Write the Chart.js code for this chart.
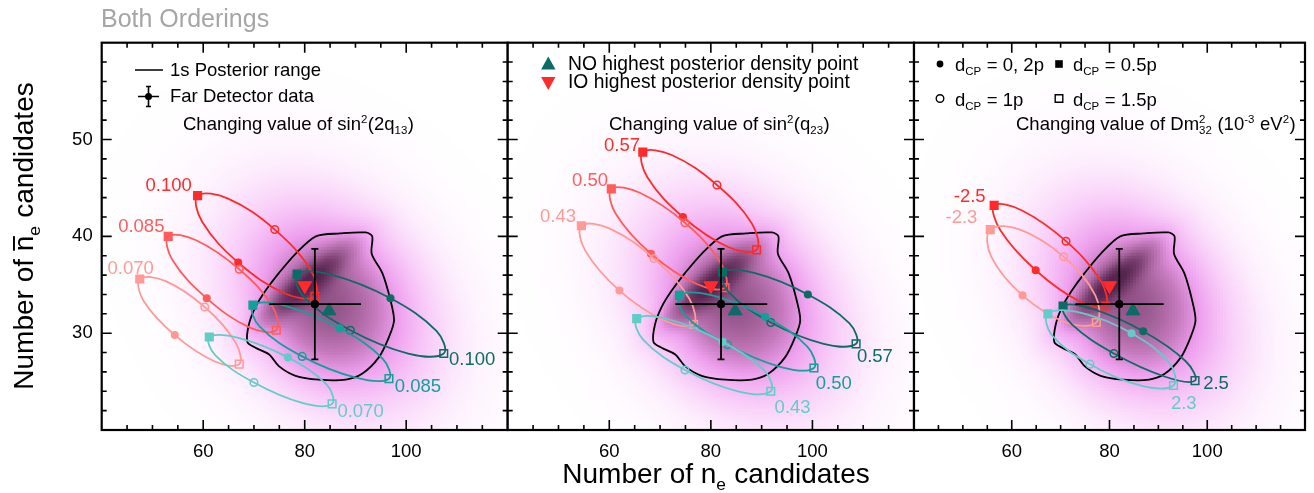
<!DOCTYPE html>
<html><head><meta charset="utf-8">
<script src="https://cdn.jsdelivr.net/npm/chart.js@4.4.0/dist/chart.umd.min.js"></script>
<style>
html,body{margin:0;padding:0;background:#fff;}
#wrap{position:relative;width:1314px;height:493px;overflow:hidden;}
#wrap canvas{position:absolute;left:0;top:0;}
</style></head><body>
<div id="wrap">
<canvas id="c1" width="1314" height="493"></canvas>
<canvas id="c2" width="1314" height="493"></canvas>
<canvas id="c3" width="1314" height="493"></canvas>
</div>
<script>
// ================= DATA =================
const xTickValues = [60, 80, 100];
const yTickValues = [30, 40, 50];

// Far Detector data point (nue, anti-nue) and its error ranges
const fdPoint = [82, 33];
const fdRangeX = [73.0, 91.1];
const fdRangeY = [27.3, 38.7];

// Highest posterior density points
const noBestFit = [84.8, 32.3];
const ioBestFit = [80.0, 34.9];

// 1 sigma posterior contour
const posteriorContour = [
  [82.2,40.0],[87.0,40.3],[92.0,40.4],[93.3,40.0],[93.2,38.2],[95.3,36.2],[96.9,33.4],[97.6,31.3],
  [96.6,29.6],[94.6,27.5],[91.3,25.8],[88.1,25.2],[82.8,25.2],[78.2,25.6],[74.9,26.6],[73.0,27.8],
  [70.3,28.5],[68.7,29.1],[69.0,30.9],[70.3,32.7],[72.3,34.4],[74.9,36.2],[78.2,38.2]
];

// posterior density (background) components: centre, widths, correlation, weight
const densCx  = [85.5, 84.0, 80.0];
const densCy  = [33.2, 32.5, 35.0];
const densSx  = [14.0, 8.0, 6.0];
const densSy  = [7.6, 4.5, 2.7];
const densRho = [-0.3, 0.1, 0.88];
const densW   = [0.5, 0.2, 0.45];

// Each curve: points at dCP = 0, 0.25pi, 0.5pi, 0.75pi, pi, 1.25pi, 1.5pi, 1.75pi
// Panel 1: sin^2(2theta13)
const th13Labels = ['0.100', '0.085', '0.070', '0.100', '0.085', '0.070'];
const th13_IO_100 = [[66.9,37.3],[59.8,41.5],[58.9,44.2],[64.9,43.9],[74.1,40.7],[81.2,36.5],[82.0,33.8],[76.1,34.1]];
const th13_IO_085 = [[60.7,33.6],[54.0,37.5],[53.1,40.0],[58.6,39.6],[67.1,36.6],[73.6,32.8],[74.4,30.3],[69.1,30.6]];
const th13_IO_070 = [[54.4,29.8],[48.3,33.3],[47.5,35.6],[52.5,35.4],[60.3,32.7],[66.3,29.1],[67.1,26.8],[62.2,27.1]];
const th13_NO_100 = [[96.9,33.6],[85.5,36.0],[78.5,36.1],[79.9,33.7],[89.0,30.3],[100.4,27.9],[107.4,27.9],[106.0,30.2]];
const th13_NO_085 = [[86.9,30.5],[76.3,32.8],[69.8,32.9],[71.1,30.7],[79.5,27.6],[90.1,25.4],[96.6,25.3],[95.3,27.4]];
const th13_NO_070 = [[76.7,27.5],[67.1,29.5],[61.2,29.6],[62.4,27.7],[70.0,24.9],[79.5,22.8],[85.4,22.7],[84.3,24.7]];

// Panel 2: sin^2(theta23)
const th23Labels = ['0.57', '0.50', '0.43', '0.57', '0.50', '0.43'];
const th23_IO_057 = [[74.5,42.0],[67.5,46.1],[66.6,48.7],[72.3,48.4],[81.2,45.3],[88.1,41.3],[89.0,38.6],[83.4,38.9]];
const th23_IO_050 = [[68.2,38.2],[61.3,42.3],[60.4,44.9],[66.0,44.5],[74.9,41.4],[81.9,37.3],[82.8,34.7],[77.1,35.1]];
const th23_IO_043 = [[62.0,34.4],[55.3,38.5],[54.5,41.1],[60.1,40.8],[68.8,37.7],[75.7,33.6],[76.6,30.9],[70.9,31.3]];
const th23_NO_057 = [[99.1,34.0],[88.7,36.2],[82.3,36.3],[83.6,34.2],[91.8,31.1],[102.2,28.9],[108.6,28.9],[107.3,31.0]];
const th23_NO_050 = [[90.7,31.7],[80.3,33.9],[73.8,33.9],[75.0,31.8],[83.3,28.8],[93.8,26.5],[100.3,26.4],[99.0,28.6]];
const th23_NO_043 = [[82.3,29.1],[71.9,31.4],[65.4,31.5],[66.7,29.3],[74.9,26.2],[85.3,24.0],[91.8,24.0],[90.6,26.1]];

// Panel 3: Delta m^2_32 (1e-3 eV^2)
const dm32Labels = ['-2.5', '-2.3', '2.5', '2.3'];
const dm32_IO_25 = [[64.9,36.5],[57.7,40.6],[56.4,43.2],[62.0,42.7],[71.1,39.5],[78.2,35.4],[79.2,32.8],[73.8,33.3]];
const dm32_IO_23 = [[62.2,33.9],[55.8,37.9],[55.6,40.7],[61.7,40.7],[70.6,37.9],[77.1,33.9],[77.3,31.1],[71.1,31.1]];
const dm32_NO_25 = [[86.9,30.2],[76.5,32.5],[70.5,32.8],[72.3,30.9],[80.9,27.9],[91.4,25.5],[97.5,25.1],[95.6,27.1]];
const dm32_NO_23 = [[84.5,30.0],[74.2,32.1],[67.4,32.0],[68.2,29.8],[76.0,26.8],[86.3,24.6],[93.1,24.6],[92.3,26.9]];

// ================= STYLE / LAYOUT =================
const FONT = "'Liberation Sans', Arial, Helvetica, sans-serif";
const C_IO1 = '#ff2b2b', C_IO2 = '#ff5c5c', C_IO3 = '#ff9a96';
const C_NO1 = '#0d6b66', C_NO2 = '#14a09a', C_NO3 = '#62cdc8';
const CMAP = [
  [0.00, 255,255,255], [0.08, 253,238,253], [0.22, 248,200,248], [0.36, 238,160,238],
  [0.50, 198,122,190], [0.64, 162,96,152], [0.80, 122,64,112], [1.00, 86,36,78]
];
const TOP = 42.7, BOTTOM = 430;
const panelsPx = [[101.7, 507.7], [507.7, 914], [914, 1308]];

function toXY(arr) { return arr.map(p => ({x: p[0], y: p[1]})); }

const MARK_R = [3.3, 0, 5.4, 0, 3.8, 0, 5.4, 0];
const MARK_S = ['circle','circle','rect','circle','circle','circle','rect','circle'];
function curveDS(arr, color) {
  return {
    data: toXY(arr), showLine: true, closed: true,
    borderColor: color, borderWidth: 1.8, tension: 0.375,
    pointRadius: c => MARK_R[c.dataIndex % 8], pointHoverRadius: c => MARK_R[c.dataIndex % 8],
    pointStyle: c => MARK_S[c.dataIndex % 8],
    pointBackgroundColor: c => (c.dataIndex === 0 || c.dataIndex === 2) ? color : 'rgba(0,0,0,0)',
    pointBorderColor: color, pointBorderWidth: 1.5,
    order: 5
  };
}
function commonDS() {
  return [
    { data: toXY(posteriorContour), showLine: true, closed: true, borderColor: '#000', borderWidth: 1.8,
      tension: 0.3, pointRadius: 0, order: 8 },
    { data: [{x: fdPoint[0], y: fdPoint[1]}], pointRadius: 3.8, pointBackgroundColor: '#000', pointBorderColor: '#000', order: 2 },
    { data: [{x: noBestFit[0], y: noBestFit[1]}], pointStyle: 'triangle', pointRadius: 8,
      pointBackgroundColor: C_NO1, pointBorderColor: C_NO1, pointBorderWidth: 1, order: 1 },
    { data: [{x: ioBestFit[0], y: ioBestFit[1]}], pointStyle: 'triangle', rotation: 180, pointRadius: 8,
      pointBackgroundColor: C_IO1, pointBorderColor: C_IO1, pointBorderWidth: 1, order: 1 }
  ];
}

// ---------- rich text ----------
function runW(ctx, r, size) {
  const s = size * 0.62;
  if (r.t !== undefined) { ctx.font = `${size}px ${FONT}`; return ctx.measureText(r.t).width; }
  if (r.over !== undefined) { ctx.font = `${size}px ${FONT}`; return ctx.measureText(r.over).width; }
  ctx.font = `${s}px ${FONT}`;
  return Math.max(r.sup ? ctx.measureText(r.sup).width : 0, r.sub ? ctx.measureText(r.sub).width : 0) + 0.5;
}
function drawRich(ctx, runs, x, y, size, color, align) {
  ctx.save();
  ctx.fillStyle = color; ctx.strokeStyle = color; ctx.textBaseline = 'alphabetic'; ctx.textAlign = 'left';
  let total = 0; const ws = runs.map(r => { const w = runW(ctx, r, size); total += w; return w; });
  let cx = x - (align === 'center' ? total / 2 : align === 'right' ? total : 0);
  const s = size * 0.62;
  runs.forEach((r, i) => {
    if (r.t !== undefined) { ctx.font = `${size}px ${FONT}`; ctx.fillText(r.t, cx, y); }
    else if (r.over !== undefined) {
      ctx.font = `${size}px ${FONT}`; ctx.fillText(r.over, cx, y);
      ctx.lineWidth = size * 0.07; ctx.beginPath();
      ctx.moveTo(cx + 0.5, y - size * 0.68); ctx.lineTo(cx + ws[i] - 0.5, y - size * 0.68); ctx.stroke();
    } else {
      ctx.font = `${s}px ${FONT}`;
      if (r.sup) ctx.fillText(r.sup, cx, y - size * 0.4);
      if (r.sub) ctx.fillText(r.sub, cx, y + size * 0.24);
    }
    cx += ws[i];
  });
  ctx.restore();
}

// ---------- drawing helpers ----------
function cmap(t) {
  if (t <= 0) return [255,255,255];
  if (t >= 1) return CMAP[CMAP.length - 1].slice(1);
  for (let i = 1; i < CMAP.length; i++) {
    if (t <= CMAP[i][0]) {
      const a = CMAP[i-1], b = CMAP[i], f = (t - a[0]) / (b[0] - a[0]);
      return [a[1] + (b[1]-a[1])*f, a[2] + (b[2]-a[2])*f, a[3] + (b[3]-a[3])*f];
    }
  }
}
function drawDensity(chart) {
  const {ctx, chartArea: a, scales: {x, y}} = chart;
  const w = Math.ceil(a.right - a.left), h = Math.ceil(a.bottom - a.top);
  const off = document.createElement('canvas'); off.width = w; off.height = h;
  const octx = off.getContext('2d'); const img = octx.createImageData(w, h);
  const cell = 3;
  for (let j = 0; j < h; j += cell) {
    const vy = y.getValueForPixel(a.top + j + cell / 2);
    for (let i = 0; i < w; i += cell) {
      const vx = x.getValueForPixel(a.left + i + cell / 2);
      let d = 0;
      for (let k = 0; k < densCx.length; k++) {
        const dx = (vx - densCx[k]) / densSx[k], dy = (vy - densCy[k]) / densSy[k], r = densRho[k];
        const q = (dx*dx - 2*r*dx*dy + dy*dy) / (1 - r*r);
        d += densW[k] * Math.exp(-q / 2);
      }
      const c = cmap(d);
      for (let jj = j; jj < Math.min(h, j + cell); jj++)
        for (let ii = i; ii < Math.min(w, i + cell); ii++) {
          const p = (jj * w + ii) * 4;
          img.data[p] = c[0]; img.data[p+1] = c[1]; img.data[p+2] = c[2]; img.data[p+3] = 255;
        }
    }
  }
  octx.putImageData(img, 0, 0);
  ctx.drawImage(off, a.left, a.top);
}
function drawErrorBar(chart) {
  const {ctx, scales: {x, y}} = chart;
  const px = x.getPixelForValue(fdPoint[0]), py = y.getPixelForValue(fdPoint[1]);
  const x0 = x.getPixelForValue(fdRangeX[0]), x1 = x.getPixelForValue(fdRangeX[1]);
  const y0 = y.getPixelForValue(fdRangeY[0]), y1 = y.getPixelForValue(fdRangeY[1]);
  ctx.save(); ctx.strokeStyle = '#000'; ctx.lineWidth = 1.8; ctx.beginPath();
  ctx.moveTo(x0, py); ctx.lineTo(x1, py);
  ctx.moveTo(px, y0); ctx.lineTo(px, y1);
  ctx.moveTo(px - 3.5, y0); ctx.lineTo(px + 3.5, y0);
  ctx.moveTo(px - 3.5, y1); ctx.lineTo(px + 3.5, y1);
  ctx.stroke(); ctx.restore();
}
function drawFrame(chart) {
  const {ctx, chartArea: a, scales: {x, y}} = chart;
  ctx.save(); ctx.strokeStyle = '#000'; ctx.lineWidth = 1.6; ctx.beginPath();
  for (let v = 45; v < 120; v += 5) {
    const px = x.getPixelForValue(v), L = v % 20 === 0 ? 10 : 5;
    ctx.moveTo(px, a.bottom); ctx.lineTo(px, a.bottom - L);
    ctx.moveTo(px, a.top); ctx.lineTo(px, a.top + L);
  }
  for (let v = 22; v < 60; v += 2) {
    const py = y.getPixelForValue(v), L = v % 10 === 0 ? 10 : 5;
    ctx.moveTo(a.left, py); ctx.lineTo(a.left + L, py);
    ctx.moveTo(a.right, py); ctx.lineTo(a.right - L, py);
  }
  ctx.stroke();
  ctx.lineWidth = 2.2;
  ctx.strokeRect(a.left, a.top, a.right - a.left, a.bottom - a.top);
  ctx.restore();
}
function drawValueLabels(chart, labels, colors, lx, ly) {
  const {ctx, scales: {x, y}} = chart;
  ctx.save(); ctx.font = `18.5px ${FONT}`; ctx.textAlign = 'center'; ctx.textBaseline = 'middle';
  labels.forEach((t, i) => { ctx.fillStyle = colors[i]; ctx.fillText(t, x.getPixelForValue(lx[i]), y.getPixelForValue(ly[i])); });
  ctx.restore();
}
function marker(ctx, kind, x, y, filled) {
  ctx.save(); ctx.fillStyle = '#000'; ctx.strokeStyle = '#000'; ctx.lineWidth = 1.4; ctx.beginPath();
  if (kind === 'c') ctx.arc(x, y, filled ? 3.4 : 3.8, 0, Math.PI * 2);
  else ctx.rect(x - 3.8, y - 3.8, 7.6, 7.6);
  filled ? ctx.fill() : ctx.stroke();
  ctx.restore();
}

// ---------- panel-specific overlays ----------
const LS = 18.5;
const overlays = [
  function (chart) {
    const ctx = chart.ctx;
    drawRich(ctx, [{t: 'Both Orderings'}], 101, 26.5, 25, '#a6a6a6', 'left');
    ctx.save(); ctx.strokeStyle = '#000'; ctx.lineWidth = 1.6; ctx.beginPath();
    ctx.moveTo(135, 70); ctx.lineTo(163, 70);
    ctx.moveTo(138, 96.5); ctx.lineTo(159, 96.5);
    ctx.moveTo(148.5, 86.5); ctx.lineTo(148.5, 106.5);
    ctx.moveTo(146, 86.5); ctx.lineTo(151, 86.5); ctx.moveTo(146, 106.5); ctx.lineTo(151, 106.5);
    ctx.stroke(); ctx.fillStyle = '#000'; ctx.beginPath(); ctx.arc(148.5, 96.5, 3.5, 0, Math.PI * 2); ctx.fill(); ctx.restore();
    drawRich(ctx, [{t: '1s Posterior range'}], 170, 76, LS, '#000', 'left');
    drawRich(ctx, [{t: 'Far Detector data'}], 170, 102, LS, '#000', 'left');
    drawRich(ctx, [{t: 'Changing value of sin'}, {sup: '2'}, {t: '(2q'}, {sub: '13'}, {t: ')'}], 183, 130, LS, '#000', 'left');
    drawValueLabels(chart, th13Labels, [C_IO1, C_IO2, C_IO3, C_NO1, C_NO2, C_NO3],
      [53.2, 47.8, 45.7, 113.0, 102.3, 91.0], [45.2, 41.0, 36.6, 27.2, 24.5, 21.9]);
    // y-axis title
    ctx.save(); ctx.translate(24, 236); ctx.rotate(-Math.PI / 2);
    drawRich(ctx, [{t: 'Number of '}, {over: 'n'}, {sub: 'e'}, {t: ' candidates'}], 0, 9, 28, '#000', 'center');
    ctx.restore();
  },
  function (chart) {
    const ctx = chart.ctx;
    ctx.save();
    ctx.fillStyle = C_NO1; ctx.beginPath(); ctx.moveTo(548.3, 56.5); ctx.lineTo(555.5, 69.5); ctx.lineTo(541.1, 69.5); ctx.closePath(); ctx.fill();
    ctx.fillStyle = C_IO1; ctx.beginPath(); ctx.moveTo(548.3, 90); ctx.lineTo(555.5, 77); ctx.lineTo(541.1, 77); ctx.closePath(); ctx.fill();
    ctx.restore();
    drawRich(ctx, [{t: 'NO highest posterior density point'}], 568, 70, 19.3, '#000', 'left');
    drawRich(ctx, [{t: 'IO highest posterior density point'}], 568, 87.5, 19.3, '#000', 'left');
    drawRich(ctx, [{t: 'Changing value of sin'}, {sup: '2'}, {t: '(q'}, {sub: '23'}, {t: ')'}], 609, 130, LS, '#000', 'left');
    drawValueLabels(chart, th23Labels, [C_IO1, C_IO2, C_IO3, C_NO1, C_NO2, C_NO3],
      [62.5, 56.2, 49.9, 112.3, 104.2, 96.1], [49.3, 45.7, 42.0, 27.5, 24.8, 22.3]);
    // x-axis title
    drawRich(ctx, [{t: 'Number of n'}, {sub: 'e'}, {t: ' candidates'}], 716, 483, 28, '#000', 'center');
  },
  function (chart) {
    const ctx = chart.ctx;
    marker(ctx, 'c', 940, 64, true); marker(ctx, 's', 1059, 64, true);
    marker(ctx, 'c', 940, 98.5, false); marker(ctx, 's', 1059, 98.5, false);
    drawRich(ctx, [{t: 'd'}, {sub: 'CP'}, {t: ' = 0, 2p'}], 955, 71, LS, '#000', 'left');
    drawRich(ctx, [{t: 'd'}, {sub: 'CP'}, {t: ' = 0.5p'}], 1073, 71, LS, '#000', 'left');
    drawRich(ctx, [{t: 'd'}, {sub: 'CP'}, {t: ' = 1p'}], 955, 105.5, LS, '#000', 'left');
    drawRich(ctx, [{t: 'd'}, {sub: 'CP'}, {t: ' = 1.5p'}], 1073, 105.5, LS, '#000', 'left');
    drawRich(ctx, [{t: 'Changing value of Dm'}, {sup: '2', sub: '32'}, {t: ' (10'}, {sup: '-3'}, {t: ' eV'}, {sup: '2'}, {t: ')'}], 1016, 130, LS, '#000', 'left');
    drawValueLabels(chart, dm32Labels, [C_IO1, C_IO3, C_NO1, C_NO3],
      [51.4, 49.7, 101.8, 95.2], [44.1, 41.9, 24.8, 22.7]);
  }
];

function makePlugin(idx) {
  return {
    id: 'panel' + idx,
    afterDatasetUpdate(chart, args) {
      const ds = chart.data.datasets[args.index];
      if (ds && ds.closed && args.meta.dataset) { args.meta.dataset._loop = true; args.meta.dataset._fullLoop = true; }
    },
    beforeDatasetsDraw(chart) { drawDensity(chart); },
    afterDatasetsDraw(chart) { drawErrorBar(chart); },
    afterDraw(chart) { drawFrame(chart); overlays[idx](chart); }
  };
}

function makeChart(id, idx, curves) {
  const [L, R] = panelsPx[idx];
  const YW = 40, XH = 40;
  const datasets = commonDS().concat(curves.map(c => curveDS(c[0], c[1])));
  return new Chart(document.getElementById(id), {
    type: 'scatter',
    data: { datasets },
    options: {
      responsive: false, animation: false, events: [],
      layout: { padding: { left: L - YW, right: 1314 - R, top: TOP, bottom: 493 - BOTTOM - XH } },
      plugins: { legend: { display: false }, tooltip: { enabled: false } },
      scales: {
        x: {
          type: 'linear', min: 40, max: 120,
          afterBuildTicks: s => { s.ticks = xTickValues.map(v => ({value: v})); },
          afterFit: s => { s.height = XH; },
          grid: { display: false, drawTicks: false }, border: { display: false },
          ticks: { font: { family: FONT, size: 18.5 }, color: '#000', padding: 11, maxRotation: 0, autoSkip: false }
        },
        y: {
          type: 'linear', min: 20, max: 60,
          afterBuildTicks: s => { s.ticks = yTickValues.map(v => ({value: v})); },
          afterFit: s => { s.width = YW; },
          grid: { display: false, drawTicks: false }, border: { display: false },
          ticks: { display: idx === 0, font: { family: FONT, size: 18.5 }, color: '#000', padding: 9, autoSkip: false }
        }
      }
    },
    plugins: [makePlugin(idx)]
  });
}

makeChart('c1', 0, [[th13_NO_070, C_NO3], [th13_NO_085, C_NO2], [th13_NO_100, C_NO1],
                    [th13_IO_070, C_IO3], [th13_IO_085, C_IO2], [th13_IO_100, C_IO1]]);
makeChart('c2', 1, [[th23_NO_043, C_NO3], [th23_NO_050, C_NO2], [th23_NO_057, C_NO1],
                    [th23_IO_043, C_IO3], [th23_IO_050, C_IO2], [th23_IO_057, C_IO1]]);
makeChart('c3', 2, [[dm32_NO_23, C_NO3], [dm32_NO_25, C_NO1], [dm32_IO_23, C_IO3], [dm32_IO_25, C_IO1]]);
</script>
</body></html>
